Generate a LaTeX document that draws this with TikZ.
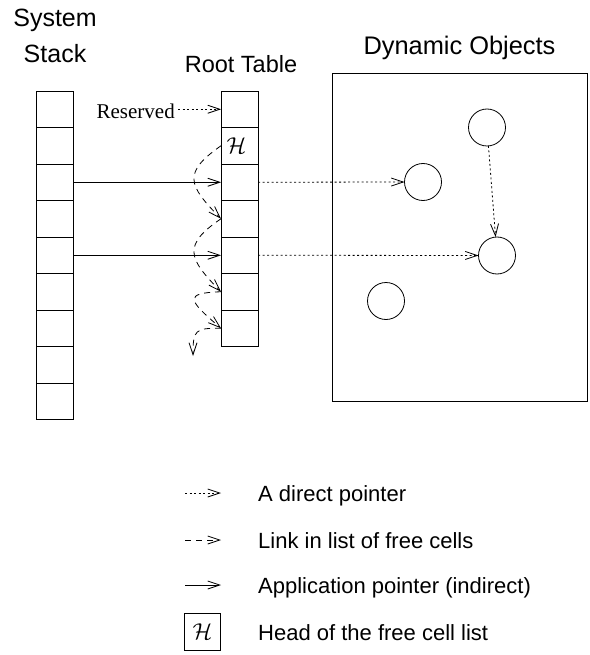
\RequirePackage{fix-cm}
\documentclass[tikz,border=0pt]{standalone}
\usepackage{fontspec}
\setmainfont{Liberation Sans}
\newfontfamily\timesfont{Liberation Serif}
\usetikzlibrary{arrows.meta,calc}

\begin{document}
\begin{tikzpicture}[x=1pt,y=-1pt,
  cell/.style={draw, line width=0.8pt, minimum width=36.5pt, minimum height=36.5pt,
               inner sep=0pt, outer sep=0pt},
  title/.style={font=\fontsize{25}{29}\selectfont, inner sep=0pt, anchor=base},
  legtext/.style={font=\fontsize{22}{26}\selectfont, inner sep=0pt, anchor=base west},
  hmark/.style={font=\fontsize{23}{26}\selectfont, inner sep=0pt},
  obj/.style={draw, circle, line width=0.8pt, minimum size=37pt, inner sep=0pt, outer sep=0pt},
  tip/.style={-{Straight Barb[length=12pt,width=8pt,line width=0.8pt]}},
  direct/.style={tip, line width=0.8pt, dash pattern=on 2pt off 2.5pt},
  freelink/.style={tip, line width=0.8pt, dash pattern=on 6pt off 5pt},
  apptr/.style={tip, line width=0.8pt},
]
\useasboundingbox (0,0) rectangle (589,655);

% titles
\node[title] (sysA) at (55,27) {System};
\node[title] (sysB) at (55,63) {Stack};
\node[title, font=\fontsize{23.5}{27}\selectfont] (rtt) at (241,73) {Root Table};
\node[title, font=\fontsize{25.4}{29}\selectfont] (dyn) at (459.5,55) {Dynamic Objects};

% system stack
\foreach \i in {1,...,9}
  \node[cell] (s\i) at (55,{91+(\i-0.5)*36.5}) {};

% root table
\foreach \i in {1,...,7}
  \node[cell, minimum width=37pt] (r\i) at (239.5,{91+(\i-0.5)*36.5}) {};
\node[hmark] (hcell) at ($(r2)+(-3,0)$) {$\mathcal{H}$};

% heap of dynamic objects
\node[draw, line width=0.8pt, minimum width=255pt, minimum height=328pt,
      inner sep=0pt, outer sep=0pt] (heap) at (459.5,237) {};
\node[obj] (o1) at (423,182) {};
\node[obj] (o2) at (497,255.5) {};
\node[obj] (o3) at (487,127.5) {};
\node[obj] (o4) at (386,301) {};

% reserved slot
\node[font=\timesfont\fontsize{21}{24}\selectfont, anchor=base east, inner sep=0pt]
  (res) at (175,119) {Reserved};
\draw[direct] ($(res.east |- r1.west)+(3,0)$) -- (r1.west);

% application pointers into the root table
\draw[apptr] (s3.east) -- (r3.west);
\draw[apptr] (s5.east) -- (r5.west);

% direct pointers to objects
\draw[direct] (r3.east) -- (o1.west);
\draw[direct] (r5.east) -- (o2.west);
\draw[direct] (o3) -- (o2);

% free cell list
\draw[freelink] (r2.west) .. controls (182.5,172.8) and (187.8,184.8) .. (r4.west);
\draw[freelink] (r4.west) .. controls (182.5,245) and (187.8,258) .. (r6.west);
\draw[freelink] (r6.west) .. controls (183,293) and (188,300) .. (r7.west);
\coordinate (fend) at (193,356);
\draw[freelink] (r7.west) .. controls (195,328) and (193,330) .. (fend);

% legend
\coordinate (la1) at (185,493); \coordinate (lb1) at (221,493);
\coordinate (la2) at (185,540); \coordinate (lb2) at (221,540);
\coordinate (la3) at (185,585); \coordinate (lb3) at (221,585);
\draw[direct] (la1) -- (lb1);
\draw[freelink] (la2) -- (lb2);
\draw[apptr] (la3) -- (lb3);
\node[cell, hmark] (hkey) at (202.5,632) {$\mathcal{H}$};
\node[legtext] (lt1) at (258,501) {A direct pointer};
\node[legtext] (lt2) at (258,548) {Link in list of free cells};
\node[legtext] (lt3) at (258,593) {Application pointer (indirect)};
\node[legtext] (lt4) at (258,640) {Head of the free cell list};
\end{tikzpicture}
\end{document}
